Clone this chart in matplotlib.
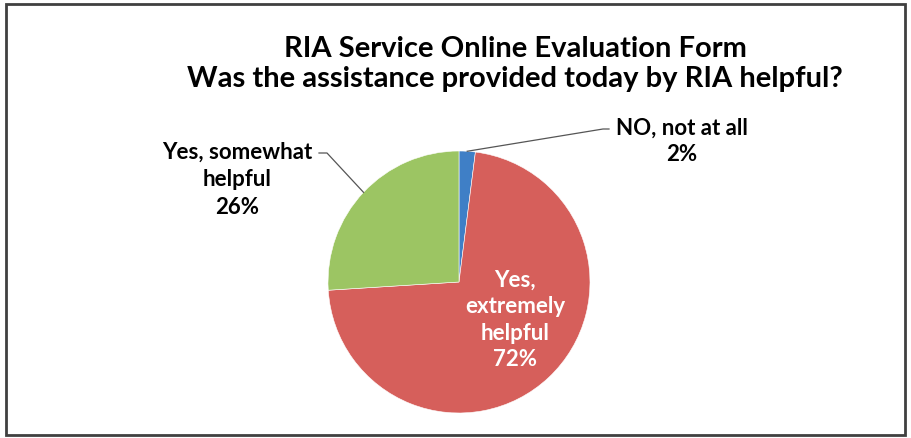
import numpy as np
import matplotlib
matplotlib.use("Agg")
import matplotlib.pyplot as plt
from matplotlib.patches import Rectangle

plt.rcParams['font.family'] = ['Lato', 'DejaVu Sans']

# data
labels = ["NO, not at all", "Yes, extremely\nhelpful", "Yes, somewhat\nhelpful"]
values = [2, 72, 26]
colors = ['#3f7fc6', '#d65f5b', '#9cc563']
title = "RIA Service Online Evaluation Form\nWas the assistance provided today by RIA helpful?"

W, H = 911, 438
fig = plt.figure(figsize=(W / 100, H / 100), dpi=100)
ax = fig.add_axes([0, 0, 1, 1])

cx, cy, r = 459, H - 282, 131
wedges, _ = ax.pie(values, colors=colors, startangle=90, counterclock=False,
                   center=(cx, cy), radius=r, frame=True,
                   wedgeprops=dict(edgecolor='#ffffff', linewidth=0.4))
ax.set_xlim(0, W)
ax.set_ylim(0, H)
ax.set_aspect('equal')
ax.axis('off')

fs = 16
def edge_pt(w):
    a = np.deg2rad((w.theta1 + w.theta2) / 2)
    return cx + r * np.cos(a), cy + r * np.sin(a)

# NO, not at all
ex, ey = edge_pt(wedges[0])
ax.plot([ex, 603, 609], [ey, H - 129, H - 129], color='#555555', lw=0.9)
ax.text(682, H - 141, "%s\n%d%%" % (labels[0], values[0]), ha='center', va='center',
        fontsize=fs, fontweight='bold', linespacing=1.3)

# Yes, somewhat helpful
ex, ey = edge_pt(wedges[2])
ax.plot([ex, 327, 319], [ey, H - 153, H - 153], color='#555555', lw=0.9)
ax.text(237, H - 180, "%s\n%d%%" % (labels[2], values[2]), ha='center', va='center',
        fontsize=fs, fontweight='bold', linespacing=1.38)

# Yes, extremely helpful
ax.text(515, H - 320, "Yes,\nextremely\nhelpful\n%d%%" % values[1], ha='center', va='center',
        fontsize=fs, fontweight='bold', color='white', linespacing=1.33)

ax.text(515, H - 64, title, ha='center', va='center', fontsize=21,
        fontweight='bold', linespacing=1.2)

fig.patches.append(Rectangle((6 / W, 3 / H), (W - 12) / W, (H - 7) / H,
                             transform=fig.transFigure, fill=False,
                             edgecolor='#404040', linewidth=2))

fig.savefig('out.png', dpi=100, facecolor='white')
